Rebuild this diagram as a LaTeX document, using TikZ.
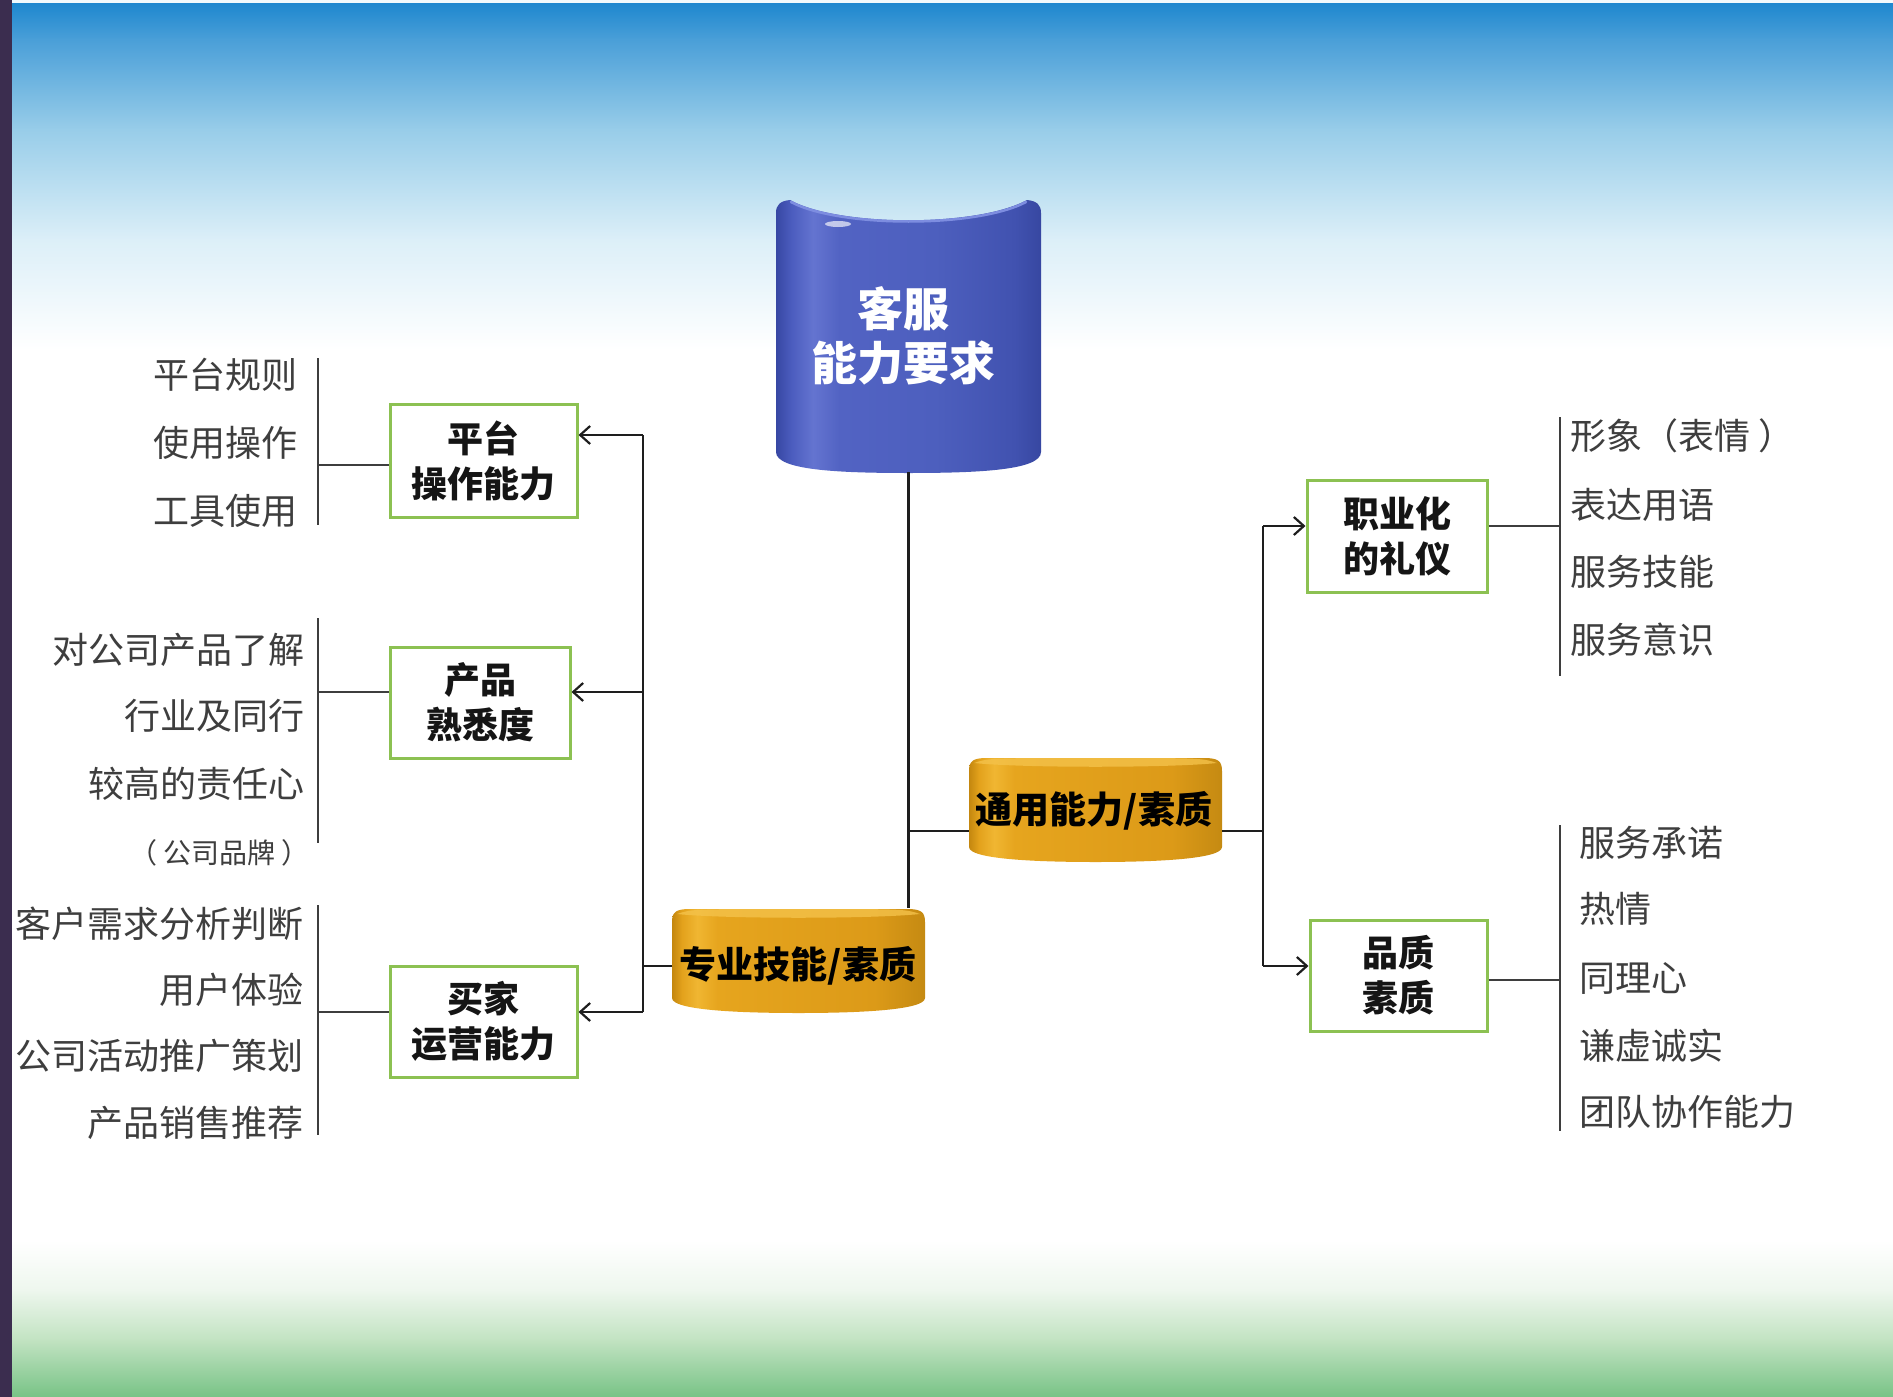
\documentclass[tikz,border=0pt]{standalone}
\usepackage{fontspec}
\setmainfont{Noto Sans CJK SC}
\usetikzlibrary{arrows.meta}
\definecolor{boxgreen}{HTML}{8CC152}
\definecolor{itemgray}{HTML}{3E3E3E}
\definecolor{linedark}{HTML}{1E1E1E}
\definecolor{boxtext}{HTML}{151515}
\definecolor{stripc}{HTML}{3B2D4F}
\definecolor{skyA}{HTML}{1F88CF}
\definecolor{skyB}{HTML}{4A9FD8}
\definecolor{skyC}{HTML}{98CDE9}
\definecolor{skyD}{HTML}{DCEFF8}
\definecolor{grassA}{HTML}{EEF7EE}
\definecolor{grassB}{HTML}{C2E3C2}
\definecolor{grassC}{HTML}{78C386}
\definecolor{bA}{HTML}{3747A3}
\definecolor{bB}{HTML}{4C5DBF}
\definecolor{bC}{HTML}{6474D0}
\definecolor{bD}{HTML}{5263C3}
\definecolor{bE}{HTML}{4D5FBE}
\definecolor{bF}{HTML}{4152B0}
\definecolor{bG}{HTML}{3747A1}
\definecolor{brim}{HTML}{7D8DE0}
\definecolor{gA}{HTML}{C4870F}
\definecolor{gB}{HTML}{E3A21C}
\definecolor{gC}{HTML}{F0B632}
\definecolor{gD}{HTML}{E6A51E}
\definecolor{gE}{HTML}{DC9A18}
\definecolor{gF}{HTML}{C58A12}
\definecolor{gtop}{HTML}{F4C24A}
\pgfdeclarehorizontalshading{bluecyl}{100bp}{color(0bp)=(bA); color(25bp)=(bA); color(28bp)=(bB); color(32bp)=(bC); color(37bp)=(bD); color(55bp)=(bE); color(70bp)=(bF); color(75bp)=(bG); color(100bp)=(bG)}
\pgfdeclarehorizontalshading{goldcyl}{100bp}{color(0bp)=(gA); color(25bp)=(gA); color(27bp)=(gB); color(30bp)=(gC); color(34bp)=(gD); color(65bp)=(gE); color(75bp)=(gF); color(100bp)=(gF)}
\newcommand\GoldShape{%
  \shade[shading=goldcyl] (0,14) .. controls (0,4) and (4,1) .. (18,1) -- (235,1) .. controls (249,1) and (253,4) .. (253,14) -- (253,90) .. controls (253,102) and (188,105) .. (126.5,105) .. controls (65,105) and (0,102) .. (0,90) -- cycle;
  \fill[gtop, opacity=0.8] (5,6) .. controls (20,1) .. (126.5,1) .. controls (233,1) .. (248,6) .. controls (200,11) and (53,11) .. (5,6) -- cycle;
}
\begin{document}
\begin{tikzpicture}[x=1pt,y=-1pt,
  gbox/.style={draw=boxgreen, line width=3pt, fill=white, inner sep=0pt, align=center, font=\bfseries\fontsize{36}{45}\selectfont, text=boxtext},
  item/.style={inner sep=0pt, font=\fontsize{36}{40}\selectfont, text=itemgray},
  smallitem/.style={inner sep=0pt, font=\fontsize{28}{30}\selectfont, text=itemgray},
  conn/.style={draw=linedark, line width=2.4pt},
  itemline/.style={draw=itemgray, line width=2pt},
  arr/.style={conn, -{Straight Barb[length=10pt, width=18pt, line width=2.2pt]}},
  goldtext/.style={inner sep=0pt, font=\bfseries\fontsize{37}{40}\selectfont, text=black},
  ghost/.style={inner sep=0pt, draw=none}
]
\useasboundingbox (0,0) rectangle (1893,1397);
% background
\fill[white] (0,0) rectangle (1893,1397);
\fill[skyD!40!white] (0,0) rectangle (1893,4);
\shade[top color=skyA, bottom color=skyB] (0,4) rectangle (1893,40);
\shade[top color=skyB, bottom color=skyC] (0,39.5) rectangle (1893,130);
\shade[top color=skyC, bottom color=skyD] (0,129.5) rectangle (1893,240);
\shade[top color=skyD, bottom color=white] (0,239.5) rectangle (1893,350);
\shade[top color=white, bottom color=grassA] (0,1240) rectangle (1893,1290);
\shade[top color=grassA, bottom color=grassB] (0,1289.5) rectangle (1893,1340);
\shade[top color=grassB, bottom color=grassC] (0,1339.5) rectangle (1893,1397);
\fill[stripc] (0,0) rectangle (12,1397);

% central blue cylinder
\begin{scope}[shift={(776,199)}]
\shade[shading=bluecyl] (0,14) .. controls (0,6) and (4,2) .. (14,1) .. controls (64,28) and (201,28) .. (251,1) .. controls (261,2) and (265,6) .. (265,14) -- (265,253) .. controls (265,271) and (204,274) .. (132.5,274) .. controls (61,274) and (0,271) .. (0,253) -- cycle;
\draw[brim, line width=2.5pt, line cap=round] (15,3) .. controls (64,29) and (201,29) .. (250,3);
\fill[white, opacity=0.65] (62,25) ellipse [x radius=13, y radius=3];
\end{scope}
\node[ghost, minimum width=265, minimum height=273] (kf) at (908.5,335.5) {};
\node[inner sep=0pt, align=center, font=\bfseries\fontsize{46}{54}\selectfont, text=white] (kft) at (903,336) {客服\\能力要求};

% gold cylinders
\begin{scope}[shift={(672,908)}]\GoldShape\end{scope}
\begin{scope}[shift={(969,757)}]\GoldShape\end{scope}
\node[ghost, minimum width=253, minimum height=104] (zy) at (798.5,960) {};
\node[ghost, minimum width=253, minimum height=104] (ty) at (1095.5,808.5) {};
\node[goldtext] (zyt) at (798,966) {专业技能/素质};
\node[goldtext] (tyt) at (1094,811) {通用能力/素质};

% boxes
\node[gbox, minimum width=187, minimum height=113] (pt) at (483.5,460.5) {平台\\操作能力};
\node[gbox, minimum width=180, minimum height=111] (cp) at (480,702.5) {产品\\熟悉度};
\node[gbox, minimum width=187, minimum height=111] (mj) at (483.5,1021.5) {买家\\运营能力};
\node[gbox, minimum width=180, minimum height=112] (zh) at (1397,536) {职业化\\的礼仪};
\node[gbox, minimum width=177, minimum height=111] (pz) at (1398.5,975.5) {品质\\素质};

% trunk connectors
\coordinate (j1) at (908.5,831);
\coordinate (j2) at (1263,831);
\coordinate (ja) at (1263,526);
\coordinate (jb) at (1263,966);
\coordinate (la) at (643,435);
\coordinate (lb) at (643,692);
\coordinate (lc) at (643,1012);
\coordinate (lz) at (643,966);
\draw[conn] (kf.south) -- (kf.south |- zy.north);
\draw[conn] (j1) -- (j1 -| ty.west);
\draw[conn] (ty.east |- j2) -- (j2);
\draw[conn] (ja) -- (jb);
\draw[arr] (ja) -- (ja -| zh.west);
\draw[arr] (jb) -- (jb -| pz.west);
\draw[conn] (zy.west |- lz) -- (lz);
\draw[conn] (la) -- (lc);
\draw[arr] (la) -- (la -| pt.east);
\draw[arr] (lb) -- (lb -| cp.east);
\draw[arr] (lc) -- (lc -| mj.east);

% left item groups
\coordinate (v1a) at (318,358);
\coordinate (v1b) at (318,525);
\coordinate (v1m) at (318,465);
\draw[itemline] (v1a) -- (v1b);
\draw[itemline] (v1m) -- (v1m -| pt.west);
\node[item, anchor=east] (a1) at (298,375) {平台规则};
\node[item, anchor=east] (a2) at (298,443) {使用操作};
\node[item, anchor=east] (a3) at (298,511) {工具使用};

\coordinate (v2a) at (318,618);
\coordinate (v2b) at (318,843);
\coordinate (v2m) at (318,692);
\draw[itemline] (v2a) -- (v2b);
\draw[itemline] (v2m) -- (v2m -| cp.west);
\node[item, anchor=east] (b1) at (305,650) {对公司产品了解};
\node[item, anchor=east] (b2) at (305,716) {行业及同行};
\node[item, anchor=east] (b3) at (305,784) {较高的责任心};
\node[smallitem, anchor=east] (b4) at (310,853) {（ 公司品牌 ）};

\coordinate (v3a) at (318,905);
\coordinate (v3b) at (318,1135);
\coordinate (v3m) at (318,1012);
\draw[itemline] (v3a) -- (v3b);
\draw[itemline] (v3m) -- (v3m -| mj.west);
\node[item, anchor=east] (c1) at (304,924) {客户需求分析判断};
\node[item, anchor=east] (c2) at (304,990) {用户体验};
\node[item, anchor=east] (c3) at (304,1056) {公司活动推广策划};
\node[item, anchor=east] (c4) at (304,1123) {产品销售推荐};

% right item groups
\coordinate (v4a) at (1560,417);
\coordinate (v4b) at (1560,676);
\coordinate (v4m) at (1560,526);
\draw[itemline] (v4a) -- (v4b);
\draw[itemline] (zh.east |- v4m) -- (v4m);
\node[item, anchor=west] (d1) at (1570,436) {形象（表情 ）};
\node[item, anchor=west] (d2) at (1570,505) {表达用语};
\node[item, anchor=west] (d3) at (1570,572) {服务技能};
\node[item, anchor=west] (d4) at (1570,640) {服务意识};

\coordinate (v5a) at (1560,825);
\coordinate (v5b) at (1560,1131);
\coordinate (v5m) at (1560,980);
\draw[itemline] (v5a) -- (v5b);
\draw[itemline] (pz.east |- v5m) -- (v5m);
\node[item, anchor=west] (e1) at (1579,843) {服务承诺};
\node[item, anchor=west] (e2) at (1579,909) {热情};
\node[item, anchor=west] (e3) at (1579,978) {同理心};
\node[item, anchor=west] (e4) at (1579,1046) {谦虚诚实};
\node[item, anchor=west] (e5) at (1579,1112) {团队协作能力};
\end{tikzpicture}
\end{document}
